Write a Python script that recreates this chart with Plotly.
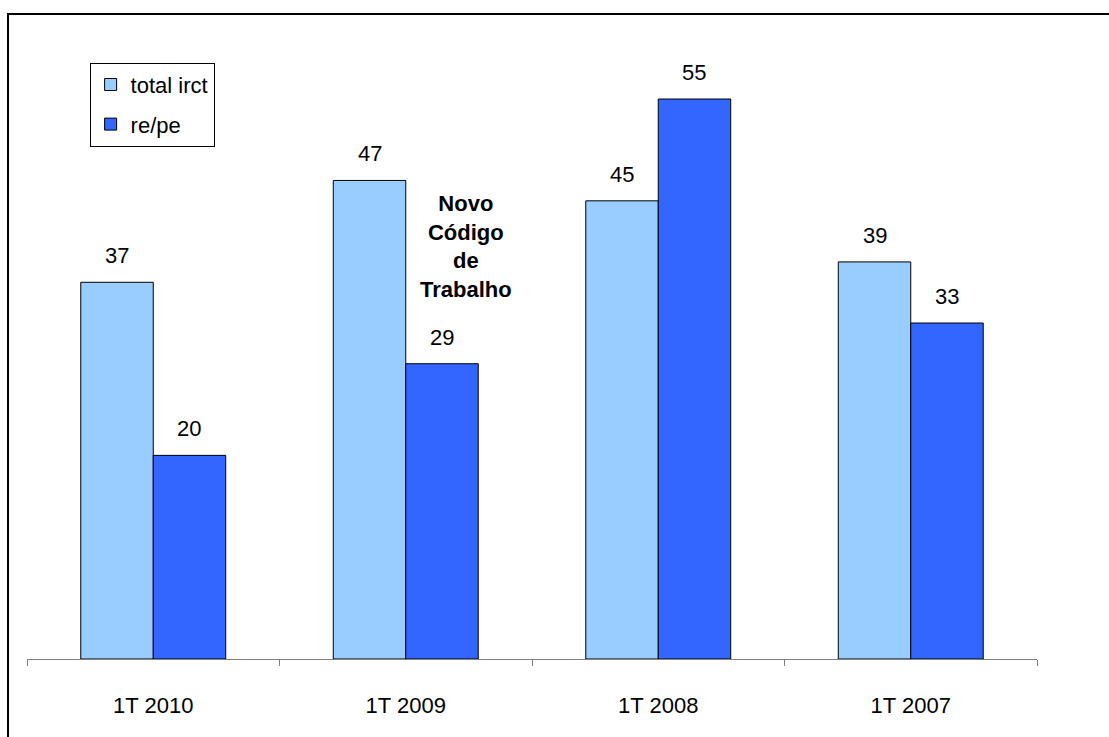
import plotly.graph_objects as go

categories = ["1T 2010", "1T 2009", "1T 2008", "1T 2007"]
total_irct = [37, 47, 45, 39]
re_pe = [20, 29, 55, 33]
series_names = ["total irct", "re/pe"]
note_text = "<b>Novo<br>Código<br>de<br>Trabalho</b>"

FONT = "Liberation Sans, Arial, sans-serif"
LIGHT = "#99CCFF"
DARK = "#3366FF"

fig = go.Figure()
fig.add_trace(go.Bar(name=series_names[0], x=categories, y=total_irct, legendgroup="a",
                     marker=dict(color=LIGHT, line=dict(color="black", width=1))))
fig.add_trace(go.Bar(name=series_names[1], x=categories, y=re_pe, legendgroup="b",
                     marker=dict(color=DARK, line=dict(color="black", width=1))))

# value labels above the bars
half = 36
for vals, shift in ((total_irct, -half), (re_pe, half)):
    for c, v in zip(categories, vals):
        fig.add_annotation(x=c, y=v, xref="x", yref="y", text=str(v), showarrow=False,
                           xshift=shift, yshift=12, yanchor="bottom",
                           font=dict(family=FONT, size=22, color="black"))

fig.add_annotation(x=0.4347, y=0.670, xref="paper", yref="paper", text=note_text,
                   showarrow=False, align="center", xanchor="center", yanchor="middle",
                   font=dict(family=FONT, size=22, color="black"))

# outer frame (left and top edges visible)
fig.add_shape(type="rect", xref="paper", yref="paper", x0=-0.0188, x1=1.3, y0=-0.3, y1=1.047,
              line=dict(color="black", width=2), fillcolor="rgba(0,0,0,0)", layer="above")

fig.update_layout(
    width=1109, height=737,
    margin=dict(l=27, r=72, t=43, b=78),
    paper_bgcolor="white", plot_bgcolor="white",
    barmode="group", bargap=0.426, bargroupgap=0,
    font=dict(family=FONT, size=22, color="black"),
    legend=dict(x=0.062, y=0.968, xanchor="left", yanchor="top",
                bordercolor="black", borderwidth=1, bgcolor="white",
                font=dict(family=FONT, size=22, color="black"),
                itemwidth=30, tracegroupgap=8),
    xaxis=dict(showline=True, linecolor="#808080", linewidth=1, ticks="outside",
               tickson="boundaries", ticklen=6, tickcolor="#808080", tickwidth=1,
               ticklabelstandoff=27, tickfont=dict(family=FONT, size=22, color="black"),
               showgrid=False),
    yaxis=dict(range=[0, 60.5], visible=False, showgrid=False),
)

fig.write_html("out.html")
